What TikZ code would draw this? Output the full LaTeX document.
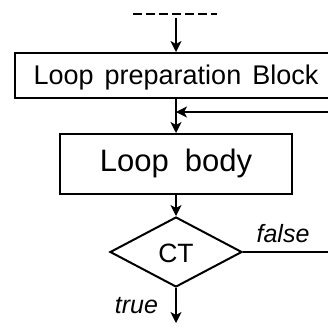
\documentclass[tikz,border=0pt]{standalone}
\usepackage{fontspec}
\setmainfont{Liberation Sans}
\usetikzlibrary{shapes.geometric,arrows.meta}
\begin{document}
\begin{tikzpicture}[x=1pt,y=-1pt,
 box/.style={draw,line width=2pt,inner sep=0pt},
 flow/.style={line width=1.3pt,-{Stealth[length=11pt,width=11pt,inset=3pt]}},
 plain/.style={line width=1.3pt},
 lbl/.style={font=\fontsize{25}{25}\selectfont\itshape,anchor=base,inner sep=0pt}]
\useasboundingbox (0,0) rectangle (328,327);
\clip (0,0) rectangle (328,327);
\coordinate (d1) at (133.3,14);
\coordinate (d2) at (217,14);
\draw[line width=1.2pt,dash pattern=on 8.3pt off 4.7pt] (d1) -- (d2);
\coordinate (s) at (176,18);
\node[box,minimum width=322pt,minimum height=45pt,text height=19pt,text depth=2pt,font=\fontsize{27}{27}\selectfont] (prep) at (176,75.5)
  {Loop\hspace{11pt}preparation\hspace{11pt}Block};
\node[box,minimum width=232pt,minimum height=60pt,text height=21pt,text depth=7pt,font=\fontsize{31}{31}\selectfont] (body) at (176,164) {Loop\hspace{16pt}body};
\node[draw,diamond,line width=2pt,minimum width=132pt,minimum height=70pt,inner sep=0pt,text height=20pt,text depth=0pt,font=\fontsize{26.5}{26.5}\selectfont] (ct) at (176,252) {CT};
\coordinate (fb) at (340,112);
\coordinate (fe) at (340,252);
\coordinate (te) at (176,323);
\draw[flow] (s) -- (prep.north);
\draw[flow] (prep.south) -- (body.north);
\draw[flow] (fb) -- (fb -| body.north);
\draw[flow] (body.south) -- (ct.north);
\draw[plain] (ct.east) -- (fe);
\draw[flow] (ct.south) -- (te);
\node[lbl] (f) at (283,242) {false};
\node[lbl] (t) at (136.5,313) {true};
\end{tikzpicture}
\end{document}
